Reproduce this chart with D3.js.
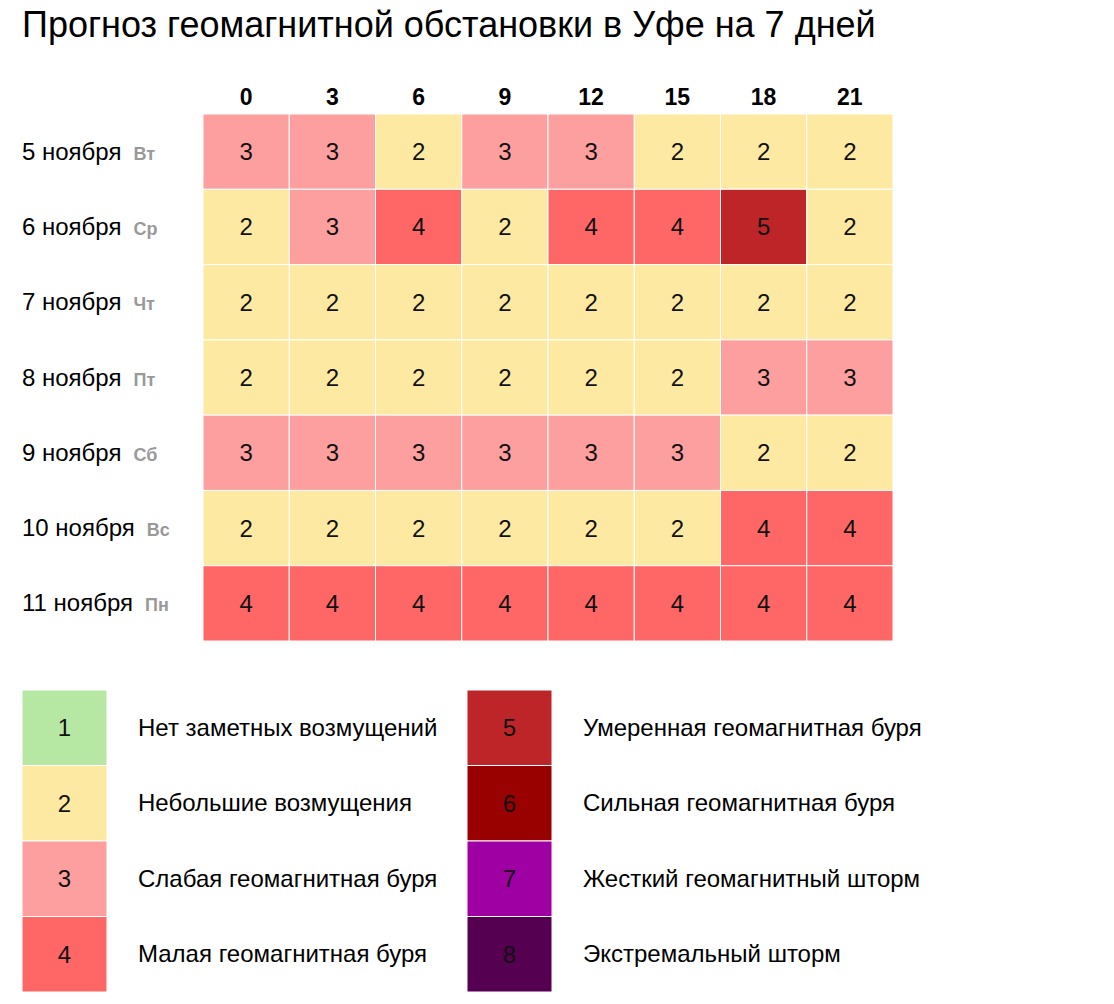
<!DOCTYPE html>
<html><head><meta charset="utf-8">
<script src="https://cdn.jsdelivr.net/npm/d3@7"></script>
<style>body{margin:0;background:#fff}svg{display:block;font-family:"Liberation Sans",Arial,sans-serif}</style>
</head><body>
<svg id="c" width="1114" height="1004"></svg>
<script>
const title = "Прогноз геомагнитной обстановки в Уфе на 7 дней";
const hours = ["0","3","6","9","12","15","18","21"];
const dates = ["5 ноября","6 ноября","7 ноября","8 ноября","9 ноября","10 ноября","11 ноября"];
const weekdays = ["Вт","Ср","Чт","Пт","Сб","Вс","Пн"];
const values = [
  [3,3,2,3,3,2,2,2],
  [2,3,4,2,4,4,5,2],
  [2,2,2,2,2,2,2,2],
  [2,2,2,2,2,2,3,3],
  [3,3,3,3,3,3,2,2],
  [2,2,2,2,2,2,4,4],
  [4,4,4,4,4,4,4,4]
];
const levels = [1,2,3,4,5,6,7,8];
const levelColors = ["#b7e8a3","#fee9a2","#fd9f9e","#fe6766","#be2528","#990000","#9e00a3","#560051"];
const levelNames = ["Нет заметных возмущений","Небольшие возмущения","Слабая геомагнитная буря","Малая геомагнитная буря","Умеренная геомагнитная буря","Сильная геомагнитная буря","Жесткий геомагнитный шторм","Экстремальный шторм"];

const svg = d3.select("#c");
const color = d3.scaleOrdinal().domain(levels).range(levelColors);

svg.append("text").attr("x",22).attr("y",37).attr("font-size",36).attr("fill","#000").text(title);

const x = d3.scaleBand().domain(hours).range([203,893]).padding(0);
const y = d3.scaleBand().domain(dates).range([114,641]).padding(0);

svg.append("g").selectAll("text").data(hours).join("text")
  .attr("x",d=>x(d)+x.bandwidth()/2).attr("y",105).attr("text-anchor","middle")
  .attr("font-size",23).attr("font-weight","bold").text(d=>d);

const rowLabels = svg.append("g").selectAll("text").data(dates).join("text")
  .attr("x",22).attr("y",d=>y(d)+y.bandwidth()/2+8).attr("font-size",24);
rowLabels.append("tspan").text(d=>d);
rowLabels.append("tspan").attr("dx",12).attr("font-size",18).attr("font-weight","bold").attr("fill","#999")
  .text((d,i)=>weekdays[i]);

const cells = [];
values.forEach((row,i)=>row.forEach((v,j)=>cells.push({r:dates[i],c:hours[j],v})));
const g = svg.append("g");
g.selectAll("rect").data(cells).join("rect")
  .attr("x",d=>x(d.c)).attr("y",d=>y(d.r)).attr("width",x.bandwidth()).attr("height",y.bandwidth())
  .attr("fill",d=>color(d.v)).attr("stroke","#fff").attr("stroke-width",1);
g.selectAll("text").data(cells).join("text")
  .attr("x",d=>x(d.c)+x.bandwidth()/2).attr("y",d=>y(d.r)+y.bandwidth()/2+8.5)
  .attr("text-anchor","middle").attr("font-size",24).attr("fill","#111").text(d=>d.v);

// legend
const ly = d3.scaleBand().domain([0,1,2,3]).range([690,992]);
const lg = svg.append("g");
const litems = levels.map((l,i)=>({l,i,col:Math.floor(i/4),row:i%4}));
const sx = [22,467], tx=[138,583];
lg.selectAll("rect").data(litems).join("rect")
  .attr("x",d=>sx[d.col]).attr("y",d=>ly(d.row)).attr("width",85).attr("height",ly.bandwidth())
  .attr("fill",d=>levelColors[d.i]).attr("stroke","#fff").attr("stroke-width",1);
lg.selectAll("text.n").data(litems).join("text").attr("class","n")
  .attr("x",d=>sx[d.col]+42.5).attr("y",d=>ly(d.row)+ly.bandwidth()/2+8.5)
  .attr("text-anchor","middle").attr("font-size",24).attr("fill","#111").text(d=>d.l);
lg.selectAll("text.t").data(litems).join("text").attr("class","t")
  .attr("x",d=>tx[d.col]).attr("y",d=>ly(d.row)+ly.bandwidth()/2+8)
  .attr("font-size",24).attr("fill","#000").text(d=>levelNames[d.i]);
</script>
</body></html>
